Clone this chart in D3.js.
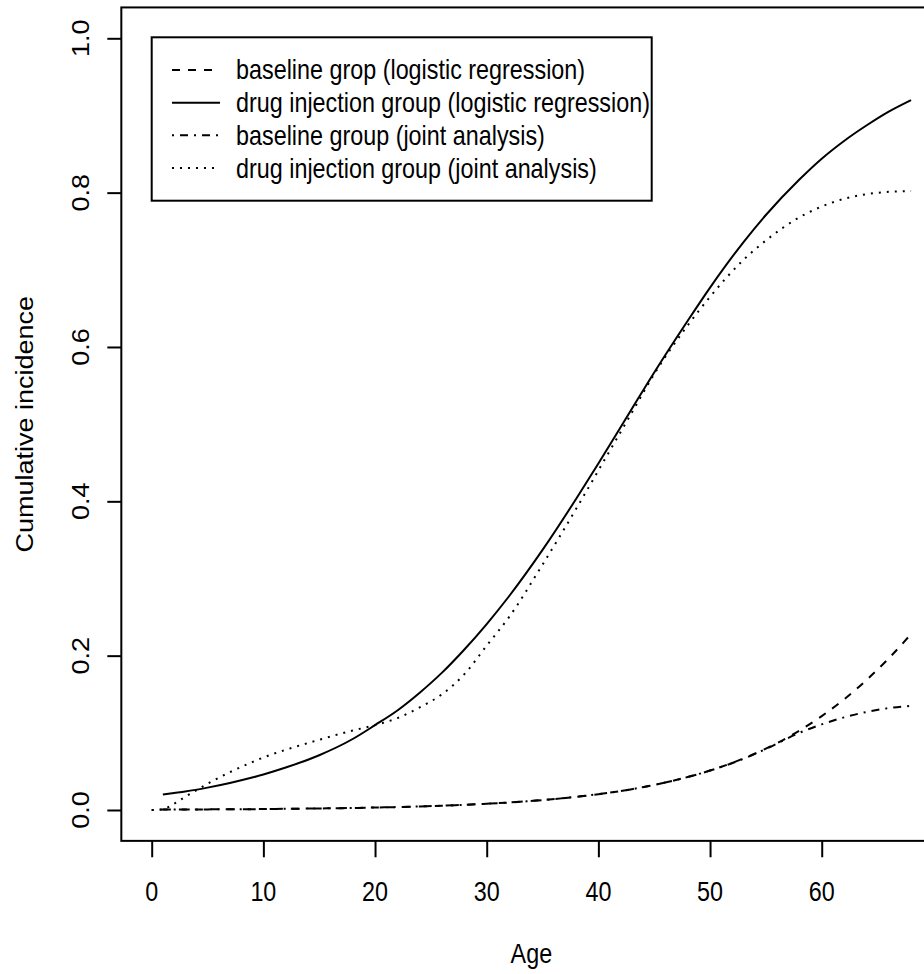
<!DOCTYPE html>
<html><head><meta charset="utf-8">
<script src="https://cdn.jsdelivr.net/npm/d3@7"></script>
<style>body{margin:0;background:#fff} svg{display:block}</style>
</head><body><svg id="c" width="924" height="974"></svg>
<script>
const ages = [0,1,2,3,5,7,9,10,12,15,18,20,22,24,26,28,30,32,35,38,40,43,45,48,50,53,55,58,60,62,64,66,68];
const baselineLogistic = [null,0.0005,0.0006,0.0006,0.0008,0.0009,0.0011,0.0012,0.0015,0.0020,0.0026,0.0032,0.0038,0.0046,0.0055,0.0067,0.0081,0.0097,0.0129,0.0171,0.0205,0.0270,0.0325,0.0427,0.0511,0.0668,0.0795,0.1029,0.1217,0.1434,0.1683,0.1964,0.228];
const drugLogistic = [null,0.020,0.022,0.024,0.029,0.035,0.042,0.046,0.055,0.071,0.092,0.110,0.129,0.152,0.178,0.208,0.241,0.277,0.337,0.403,0.449,0.520,0.567,0.634,0.677,0.736,0.771,0.817,0.844,0.867,0.887,0.905,0.920];
const baselineJoint = [0,0.0005,0.0006,0.0007,0.0008,0.0009,0.0011,0.0012,0.0015,0.0020,0.0026,0.0032,0.0038,0.0046,0.0055,0.0067,0.0081,0.0097,0.0129,0.0171,0.0205,0.0270,0.0325,0.0427,0.0511,0.0665,0.079,0.100,0.111,0.120,0.127,0.132,0.135];
const drugJoint = [0,0.001,0.008,0.017,0.034,0.049,0.062,0.068,0.078,0.091,0.103,0.110,0.119,0.133,0.150,0.176,0.213,0.250,0.318,0.390,0.440,0.515,0.565,0.628,0.665,0.713,0.738,0.768,0.782,0.792,0.798,0.801,0.802];

const xTicks = [0,10,20,30,40,50,60];
const yTicks = [0,0.2,0.4,0.6,0.8,1.0];
const legendLabels = ["baseline grop (logistic regression)","drug injection group (logistic regression)","baseline group (joint analysis)","drug injection group (joint analysis)"];
const xTitle = "Age";
const yTitle = "Cumulative incidence";

const FONT = "'Liberation Sans', Arial, Helvetica, sans-serif";
const FS = 27, SX = 0.865;
const svg = d3.select("#c");
svg.append("rect").attr("width",924).attr("height",974).attr("fill","#fff");

const x = d3.scaleLinear().domain([0,68]).range([151.7, 151.7 + 68*11.167]);
const y = d3.scaleLinear().domain([0,1]).range([810, 38.3]);
const xr = [x(-0.04*68), x(68*1.04)];
const yr = [y(1.04), y(-0.04)];

const series = [
  {v: baselineLogistic, dash: "8,8"},
  {v: drugLogistic, dash: null},
  {v: baselineJoint, dash: "2,6,8,6"},
  {v: drugJoint, dash: "2,6"}
];

const line = d3.line()
  .defined(d => d[1] !== null)
  .x(d => x(d[0])).y(d => y(d[1]))
  .curve(d3.curveMonotoneX);

series.forEach(s => {
  svg.append("path")
    .attr("d", line(ages.map((a,i) => [a, s.v[i]])))
    .attr("fill","none").attr("stroke","#000").attr("stroke-width",2)
    .attr("stroke-dasharray", s.dash);
});

svg.append("rect").attr("x",xr[0]).attr("y",yr[0])
  .attr("width",xr[1]-xr[0]).attr("height",yr[1]-yr[0])
  .attr("fill","none").attr("stroke","#000").attr("stroke-width",2);

function txt(px, py, s, rot) {
  svg.append("text")
    .attr("transform", `translate(${px},${py}) scale(${SX},1)` + (rot ? " rotate(-90)" : ""))
    .attr("text-anchor", "middle")
    .attr("font-family", FONT).attr("font-size", FS).attr("fill","#000")
    .text(s);
}

const xAxis = d3.axisBottom(x).tickValues(xTicks).tickSize(16.4).tickFormat("");
const gx = svg.append("g").attr("transform",`translate(0,${yr[1]})`).call(xAxis);
gx.select(".domain").remove();
gx.selectAll("line").attr("stroke","#000").attr("stroke-width",2);
xTicks.forEach(t => txt(x(t), 901, String(t), false));

const yAxis = d3.axisLeft(y).tickValues(yTicks).tickSize(14).tickFormat("");
const gy = svg.append("g").attr("transform",`translate(${xr[0]},0)`).call(yAxis);
gy.select(".domain").remove();
gy.selectAll("line").attr("stroke","#000").attr("stroke-width",2);
yTicks.forEach(t => txt(89.3, y(t), d3.format(".1f")(t), true));

txt((xr[0]+xr[1])/2, 963, xTitle, false);
txt(33.3, (yr[0]+yr[1])/2, yTitle, true);

const lg = {left:151.7, top:37.3, right:651.7, bottom:200.7};
svg.append("rect").attr("x",lg.left).attr("y",lg.top)
  .attr("width",lg.right-lg.left).attr("height",lg.bottom-lg.top)
  .attr("fill","#fff").attr("stroke","#000").attr("stroke-width",2);
const rowH = (lg.bottom - lg.top)/5;
legendLabels.forEach((lab,i) => {
  const cy = lg.top + rowH*(i+1);
  svg.append("line").attr("x1",172).attr("x2",220).attr("y1",cy).attr("y2",cy)
    .attr("stroke","#000").attr("stroke-width",2)
    .attr("stroke-dasharray", series[i].dash);
  svg.append("text")
    .attr("transform", `translate(236,${cy + 9.5}) scale(${SX},1)`)
    .attr("font-family", FONT).attr("font-size", FS).attr("fill","#000")
    .text(lab);
});
</script></body></html>
